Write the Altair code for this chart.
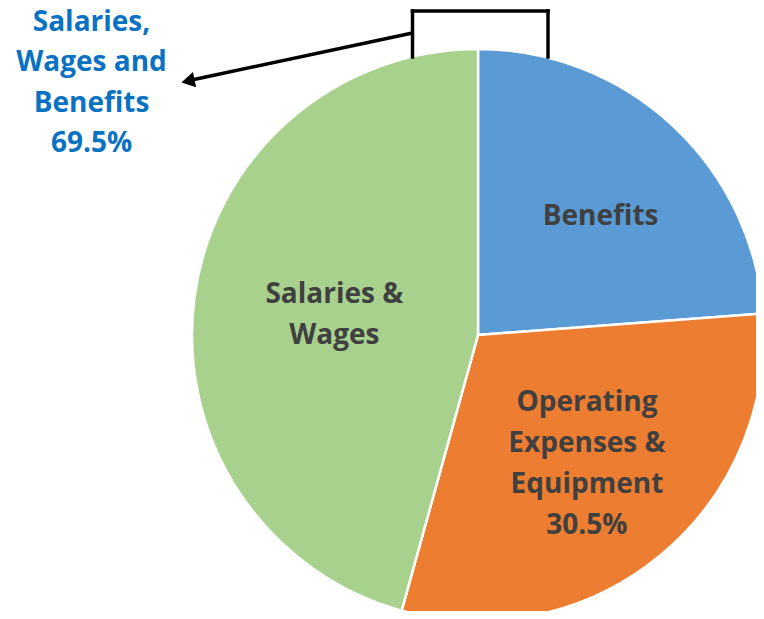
import altair as alt
import pandas as pd

categories = ["Benefits", "Operating Expenses & Equipment", "Salaries & Wages"]
shares = [23.8, 30.5, 45.7]
slice_labels = ["Benefits", "Operating\nExpenses &\nEquipment\n30.5%", "Salaries &\nWages"]
slice_colors = ["#5B9BD5", "#ED7D31", "#A9D18E"]
callout_text = ["Salaries,\nWages and\nBenefits\n69.5%"]

df = pd.DataFrame({"category": categories, "share": shares, "label": slice_labels})

W, H = 748, 603
CX, CY, R = 470, 327, 286  # pie centre/radius in view pixels
FONT = "Open Sans"
FS = 28
LH = 41

base = alt.Chart(df).encode(
    theta=alt.Theta("share:Q", stack=True),
    order=alt.Order("category:N"),
)

pie = base.mark_arc(stroke="white", strokeWidth=2.5).encode(
    color=alt.Color("category:N", scale=alt.Scale(domain=categories, range=slice_colors), legend=None),
    x=alt.value(CX), y=alt.value(CY), radius=alt.value(R),
)


def slice_label(cat, r, dx, dy):
    return base.mark_text(
        font=FONT, fontSize=FS, fontWeight="bold", color="#404040",
        lineBreak="\n", lineHeight=LH, baseline="alphabetic", align="center",
        dx=dx, dy=dy,
    ).encode(
        text=alt.condition(alt.datum.category == cat, alt.Text("label:N"), alt.value("")),
        x=alt.value(CX), y=alt.value(CY), radius=alt.value(r),
    )


lab_benefits = slice_label("Benefits", 170, 7, 15)
lab_operating = slice_label("Operating Expenses & Equipment", 170, 1, -55)
lab_salaries = slice_label("Salaries & Wages", 146, 1, -12)

callout = alt.Chart(pd.DataFrame({"t": callout_text})).mark_text(
    font=FONT, fontSize=FS, fontWeight="bold", color="#0B72C2",
    lineBreak="\n", lineHeight=40.5, baseline="alphabetic", align="center",
).encode(text="t:N", x=alt.value(83.5), y=alt.value(22.5))

one = pd.DataFrame({"k": [0]})
rule_style = dict(color="black", strokeWidth=3.5, strokeCap="square")
left_v = alt.Chart(one).mark_rule(**rule_style).encode(
    x=alt.value(404.5), y=alt.value(3), y2=alt.value(49))
top_h = alt.Chart(one).mark_rule(**rule_style).encode(
    x=alt.value(404.5), x2=alt.value(540), y=alt.value(3))
right_v = alt.Chart(one).mark_rule(**rule_style).encode(
    x=alt.value(540), y=alt.value(3), y2=alt.value(49))
arrow_line = alt.Chart(one).mark_rule(color="black", strokeWidth=3.5).encode(
    x=alt.value(404.5), y=alt.value(25), x2=alt.value(186), y2=alt.value(71.5))
arrow_head = alt.Chart(one).mark_point(
    shape="triangle-left", filled=True, color="black", opacity=1, size=240, angle=348,
).encode(x=alt.value(180), y=alt.value(73))

chart = alt.layer(
    pie, lab_benefits, lab_operating, lab_salaries, callout,
    left_v, top_h, right_v, arrow_line, arrow_head,
).properties(
    width=W, height=H, padding=0, autosize=alt.AutoSizeParams(type="none"),
).configure_view(stroke=None)

chart.save("out.html", embed_options={"renderer": "svg", "actions": False})
